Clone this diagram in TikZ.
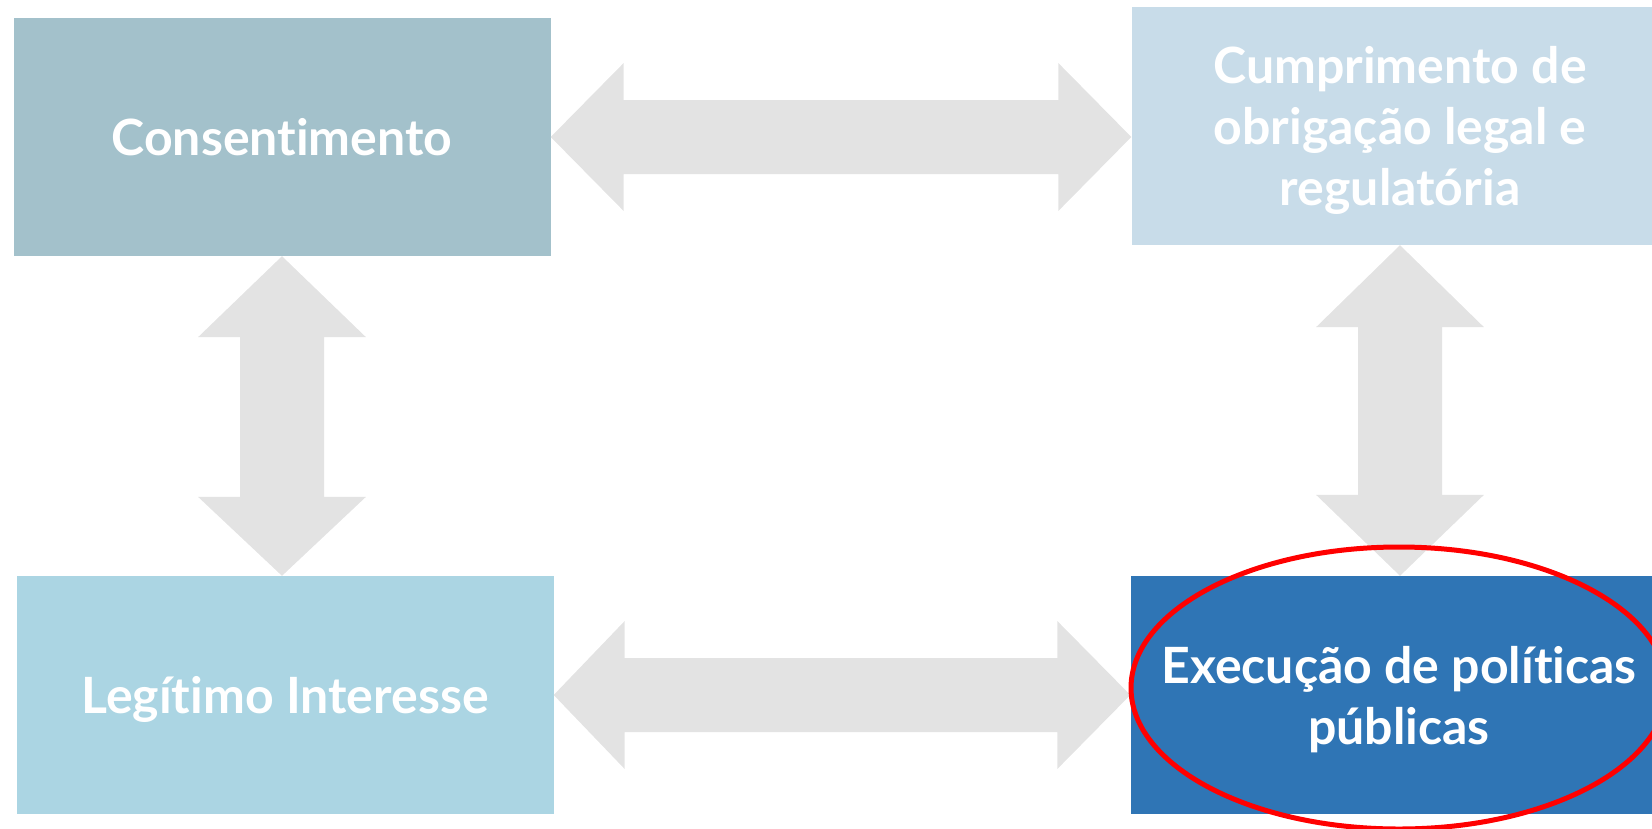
\documentclass[tikz,border=0pt]{standalone}
\usepackage{fontspec}
\setmainfont{Lato}[Ligatures=NoCommon]
\usepackage{tikz}
\usetikzlibrary{calc}

\definecolor{consfill}{HTML}{A3C1CB}
\definecolor{cumpfill}{HTML}{C8DCE9}
\definecolor{legfill}{HTML}{ABD5E3}
\definecolor{execfill}{HTML}{2F75B5}
\definecolor{linkgray}{HTML}{E3E3E3}

\begin{document}
\begin{tikzpicture}[
    x=1pt, y=-1pt,
    stage/.style={rectangle, inner sep=0pt, minimum width=537pt, minimum height=238pt, align=center, text=white, text depth=0pt, font=\bfseries\fontsize{50}{61}\selectfont},
    link/.style={fill=linkgray},
    ring/.style={draw=red, line width=5pt}
]
\useasboundingbox (0,0) rectangle (1652,828);
\clip (0,0) rectangle (1652,828);

% Boxes
\node[stage, fill=consfill] (cons) at (282, 137) {Consentimento};
\node[stage, fill=cumpfill] (cump) at (1400, 126) {Cumprimento de\\obrigação legal e\\regulatória};
\node[stage, fill=legfill] (legit) at (285, 695) {Legítimo Interesse};
\node[stage, fill=execfill] (exec) at (1399, 695) {Execução de políticas\\públicas};

% Tips
\coordinate (tr) at (cons.east -| cump.west);
\coordinate (br) at (legit.east -| exec.west);
\coordinate (ls) at (cons.south);
\coordinate (ln) at (ls |- legit.north);
\coordinate (rs) at (cump.south);
\coordinate (rn) at (rs |- exec.north);

% Double arrows
\fill[link] (cons.east) -- ++(73,-74) -- ++(0,37) -- ($(tr)+(-73,-37)$) -- ++(0,-37)
    -- (tr) -- ++(-73,74) -- ++(0,-37) -- ($(cons.east)+(73,37)$) -- ++(0,37) -- cycle;
\fill[link] (legit.east) -- ++(71,-74) -- ++(0,37) -- ($(br)+(-73,-37)$) -- ++(0,-37)
    -- (br) -- ++(-73,74) -- ++(0,-37) -- ($(legit.east)+(71,37)$) -- ++(0,37) -- cycle;
\fill[link] (ls) -- ++(84,81) -- ++(-42,0) -- ($(ln)+(42,-79)$) -- ++(42,0)
    -- (ln) -- ++(-84,-79) -- ++(42,0) -- ($(ls)+(-42,81)$) -- ++(-42,0) -- cycle;
\fill[link] (rs) -- ++(84,82) -- ++(-42,0) -- ($(rn)+(42,-81)$) -- ++(42,0)
    -- (rn) -- ++(-84,-81) -- ++(42,0) -- ($(rs)+(-42,82)$) -- ++(-42,0) -- cycle;

% Highlight
\draw[ring] ($(exec.center)+(0,-7)$) ellipse [x radius=268, y radius=141];

\end{tikzpicture}
\end{document}
